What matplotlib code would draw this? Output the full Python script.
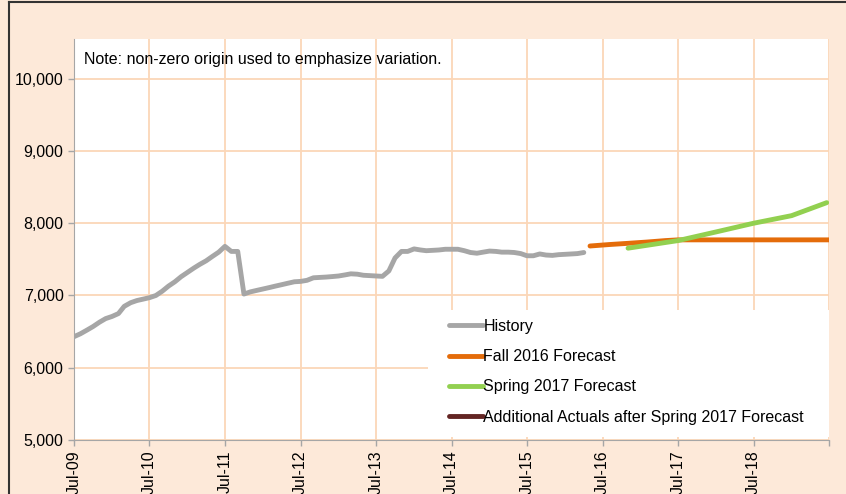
import matplotlib
matplotlib.use('Agg')
import matplotlib.pyplot as plt
from matplotlib.patches import Rectangle
from matplotlib.lines import Line2D
import pandas as pd

plt.rcParams['font.family'] = ['Liberation Sans', 'DejaVu Sans']

# monthly history starting Jul-09
history = [6430, 6470, 6520, 6570, 6630, 6680, 6710, 6750, 6850, 6900,
           6930, 6950, 6970, 7000, 7060, 7130, 7190, 7260, 7320, 7380,
           7430, 7480, 7540, 7600, 7680, 7610, 7610, 7020, 7050, 7070,
           7090, 7110, 7130, 7150, 7170, 7190, 7195, 7210, 7245, 7250,
           7255, 7262, 7270, 7285, 7300, 7295, 7280, 7275, 7270, 7265,
           7340, 7520, 7610, 7610, 7645, 7630, 7620, 7625, 7630, 7640,
           7640, 7640, 7620, 7595, 7585, 7600, 7615, 7610, 7600, 7600,
           7595, 7580, 7550, 7550, 7575, 7560, 7555, 7565, 7570, 7575,
           7580, 7595]
history_dates = pd.date_range('2009-07-01', periods=len(history), freq='MS')

fall_dates = ['2016-05-01', '2016-08-01', '2016-11-01', '2017-02-01',
              '2017-05-01', '2017-07-01', '2019-07-01']
fall_values = [7685, 7705, 7722, 7740, 7760, 7770, 7770]

spring_dates = ['2016-11-01', '2017-07-01', '2018-01-01', '2018-07-01',
                '2019-01-01', '2019-06-20']
spring_values = [7655, 7760, 7880, 8000, 8105, 8285]

tick_years = list(range(2009, 2020))

bg = '#FDE9D9'
grid_c = '#FBD7B8'
fs = 11.5
lw = 3.5

fig = plt.figure(figsize=(8.46, 4.94), dpi=100, facecolor=bg)
ax = fig.add_axes([74 / 846, 1 - 440 / 494, 755 / 846, 401 / 494])
ax.set_facecolor('white')

ax.plot(history_dates, history, color='#A6A6A6', lw=lw, label='History',
        solid_capstyle='round', zorder=3)
ax.plot(pd.to_datetime(fall_dates), fall_values, color='#E46C0A', lw=lw,
        label='Fall 2016 Forecast', solid_capstyle='round', zorder=3)
ax.plot(pd.to_datetime(spring_dates), spring_values, color='#92D050', lw=lw,
        label='Spring 2017 Forecast', solid_capstyle='round', zorder=3)
ax.plot([], [], color='#632523', lw=lw,
        label='Additional Actuals after Spring 2017 Forecast')

ax.set_ylim(5000, 10550)
ax.set_yticks(range(5000, 10001, 1000))
ax.set_yticklabels([f'{v:,}' for v in range(5000, 10001, 1000)])

ticks = pd.to_datetime([f'{y}-07-01' for y in tick_years])
ax.set_xlim(ticks[0], ticks[-1])
ax.set_xticks(ticks)
ax.set_xticklabels([t.strftime('Jul-%y') for t in ticks[:-1]] + [''],
                   rotation=90)

ax.set_axisbelow(True)
ax.grid(True, color=grid_c, lw=1.3)
for s in ['top', 'right']:
    ax.spines[s].set_visible(False)
for s in ['left', 'bottom']:
    ax.spines[s].set_color('#A6A6A6')
ax.tick_params(colors='#A6A6A6', labelcolor='black', labelsize=fs,
               length=4, width=1)

# white legend area covering the grid
ax.add_patch(Rectangle(((428 - 74) / 755, 3 / 401), 401 / 755, 127 / 401,
                       transform=ax.transAxes, facecolor='white',
                       edgecolor='none', zorder=1))
leg = ax.legend(loc='upper left', bbox_to_anchor=((449 - 74) / 755, (440 - 319) / 401),
                frameon=False, fontsize=fs, borderpad=0, borderaxespad=0,
                handlelength=2.1, handletextpad=0.05, labelspacing=0.95)
for h in leg.get_lines():
    h.set_solid_capstyle('round')

ax.text(0.013, 0.948, 'Note: non-zero origin used to emphasize variation.',
        transform=ax.transAxes, fontsize=fs, va='center', ha='left')

# outer frame lines
fig.add_artist(Line2D([9 / 846, 9 / 846], [0, 1 - 2 / 494], color='#333333',
                      lw=1.5, transform=fig.transFigure))
fig.add_artist(Line2D([9 / 846, 1], [1 - 2 / 494, 1 - 2 / 494], color='#333333',
                      lw=1.5, transform=fig.transFigure))

fig.savefig('out.png', dpi=100, facecolor=bg)
